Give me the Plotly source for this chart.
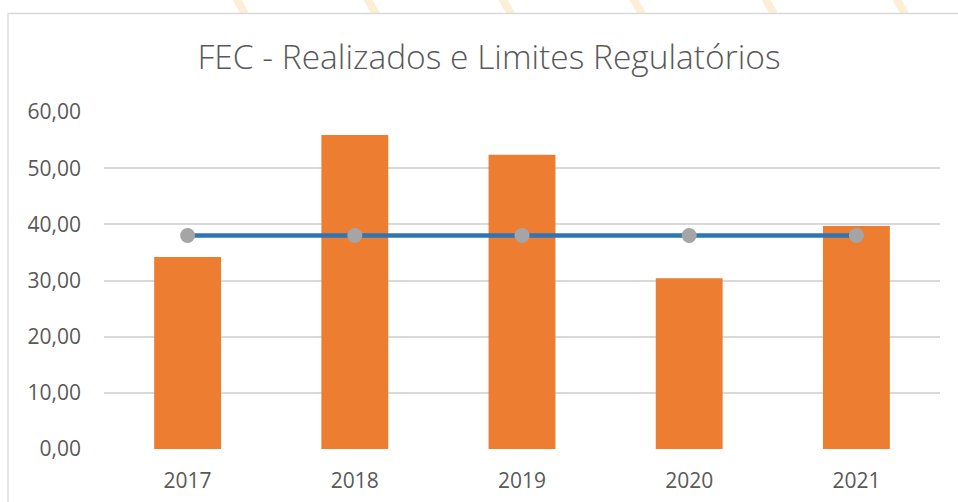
import plotly.graph_objects as go

years = ["2017", "2018", "2019", "2020", "2021"]
realizado = [34.2, 55.9, 52.4, 30.4, 39.7]
limite = [38.0, 38.0, 38.0, 38.0, 38.0]
y_ticks = [0, 10, 20, 30, 40, 50, 60]

W, H = 958, 502
L, R, T, B = 104, 18, 112, 53
pw, ph = W - L - R, H - T - B

def px_x(x):
    return (x - L) / pw

def px_y(y):
    return (H - B - y) / ph

fig = go.Figure()
fig.add_trace(go.Bar(
    x=years, y=realizado, width=0.4,
    marker=dict(color="#ED7D31", line=dict(width=0)),
    name="Realizado",
))
fig.add_trace(go.Scatter(
    x=years, y=limite, mode="lines+markers",
    line=dict(color="#2E75B6", width=4.5),
    marker=dict(color="#A5A5A5", size=15),
    name="Limite Regulatório",
))

shapes = []
# faint decorative stripes above the chart frame
for xt in [236, 367, 502, 633, 765, 896]:
    shapes.append(dict(type="line", xref="paper", yref="paper",
                       x0=px_x(xt), y0=px_y(-2), x1=px_x(xt + 9), y1=px_y(14),
                       line=dict(color="rgba(250,205,140,0.35)", width=8),
                       layer="below"))
# chart frame
shapes.append(dict(type="rect", xref="paper", yref="paper",
                   x0=px_x(8), y0=px_y(13.5), x1=px_x(970), y1=px_y(520),
                   line=dict(color="#D9D9D9", width=1.3),
                   fillcolor="white", layer="below"))

fig.update_layout(
    width=W, height=H,
    margin=dict(l=L, r=R, t=T, b=B, autoexpand=False),
    paper_bgcolor="white", plot_bgcolor="rgba(0,0,0,0)",
    separators=",.",
    showlegend=False,
    font=dict(family="Open Sans", color="#595959", size=21),
    title=dict(text="FEC - Realizados e Limites Regulatórios",
               x=px_x(489), xanchor="center", xref="paper",
               y=1 - 57 / H, yanchor="middle", yref="container",
               font=dict(family="Open Sans", size=33.5, color="#595959", weight=300)),
    shapes=shapes,
)
fig.update_xaxes(showgrid=False, showline=False, zeroline=False,
                 ticks="", ticklabelstandoff=17,
                 tickfont=dict(size=21, color="#595959"))
fig.update_yaxes(range=[0, 60], tickvals=y_ticks, tickformat=".2f",
                 showgrid=True, gridcolor="#D9D9D9", gridwidth=1.5,
                 zeroline=False, showline=False, ticks="",
                 ticklabelstandoff=22,
                 tickfont=dict(size=21, color="#595959"))

fig.write_html("out.html", config={"displayModeBar": False},
               post_script="document.body.style.margin='0';")
